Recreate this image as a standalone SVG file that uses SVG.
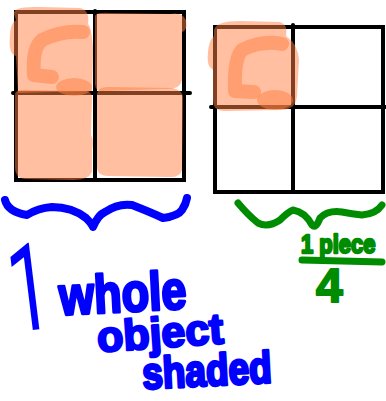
<svg xmlns="http://www.w3.org/2000/svg" width="386" height="401" viewBox="0 0 386 401">
<style>
.grid{fill:none;stroke:#000;stroke-width:4;stroke-linecap:round}
.shade{fill:#FF7F41;opacity:0.5}
.cstroke{fill:none;stroke:#FF7F41;stroke-width:14;stroke-linecap:round;stroke-linejoin:round;opacity:0.5}
.blue{fill:none;stroke:#0000FF;stroke-width:8;stroke-linecap:round;stroke-linejoin:round}
.green{fill:none;stroke:#008C00;stroke-width:7;stroke-linecap:round;stroke-linejoin:round}
.bt{font-family:'Liberation Sans',Arial,sans-serif;font-weight:bold;fill:#0000FF;stroke:#0000FF;stroke-width:2.5;stroke-linejoin:round}
.gt{font-family:'Liberation Sans',Arial,sans-serif;font-weight:bold;fill:#008C00;stroke:#008C00;stroke-width:2;stroke-linejoin:round}
</style>
<rect width="386" height="401" fill="#fff"/>
<g id="left-grid">
<rect class="grid" x="16" y="12" width="168" height="168"/>
<line class="grid" x1="95" y1="11" x2="95" y2="180"/>
<line class="grid" x1="13" y1="93" x2="190" y2="93"/>
<path class="shade" d="M14,14 Q12,6 40,7 L80,8 Q90,10 88,24 Q92,28 93,50 L92,91 L18,93 L16,56 Q8,54 10,36 Q10,24 16,20 Z"/>
<path class="shade" d="M95,16 Q96,12 110,13 L170,14 Q182,12 186,20 Q188,30 182,32 L182,80 Q180,90 165,89 L100,91 Q94,90 95,80 Z"/>
<path class="shade" d="M15,95 Q14,89 30,90 L86,91 Q93,92 92,100 L91,135 Q94,140 92,150 L92,172 Q88,181 70,180 L25,179 Q15,178 15,168 Z"/>
<path class="shade" d="M97,94 Q98,86 110,87 L172,88 Q184,90 183,100 L182,170 Q180,178 168,177 L108,176 Q98,176 97,168 Z"/>
<path class="cstroke" d="M83,32 Q62,30 42,40 Q32,48 34,75 L52,77"/>
<ellipse class="shade" cx="74" cy="87" rx="18" ry="9"/>
</g>
<g id="right-grid">
<rect class="grid" x="215" y="27" width="168" height="165"/>
<line class="grid" x1="293" y1="25" x2="293" y2="192"/>
<line class="grid" x1="211" y1="107" x2="386" y2="107"/>
<path class="shade" d="M214,30 Q216,21 240,21 L280,22 Q288,24 286,36 Q298,44 299,60 L297,96 Q296,110 280,110 L225,111 Q212,111 213,98 L213,70 Q206,66 208,52 Q209,40 214,36 Z"/>
<path class="cstroke" d="M282,44 Q262,40 242,50 Q234,58 235,91 L254,92"/>
<ellipse class="shade" cx="275" cy="100" rx="18" ry="10"/>
</g>
<g id="connectors">
<path class="blue" d="M5,200 Q8,212 27,215 Q38,208 52,207 Q72,207 86,218 Q92,224 93,227 Q98,215 105,212 Q118,203 132,205 Q150,212 163,218 Q178,216 182,210 Q186,204 187,198"/>
<path class="green" d="M238,203 Q248,215 258,223 Q268,228 280,220 Q288,212 293,210 Q305,212 312,225 Q316,229 320,218 Q328,210 342,212 Q352,214 362,215 Q376,214 382,205"/>
<line class="green" x1="302" y1="260" x2="382" y2="262"/>
</g>
<g id="blue-label">
<text transform="translate(34,330) rotate(-7) scale(0.6,1)" font-family="Roboto,'Liberation Sans',sans-serif" font-size="122" fill="#0000FF" text-anchor="middle">1</text>
<text class="bt" font-size="45" transform="translate(60,315) rotate(-3) scale(1,1.2)">whole</text>
<text class="bt" font-size="43" transform="translate(98,352) rotate(-4)">object</text>
<text class="bt" font-size="37" transform="translate(143,389) rotate(-3) scale(1,1.2)">shaded</text>
</g>
<g id="green-label">
<text class="gt" font-size="22" transform="translate(301,253) scale(1,1.2)">1 piece</text>
<text class="gt" font-size="48" x="316" y="302">4</text>
</g>
</svg>
